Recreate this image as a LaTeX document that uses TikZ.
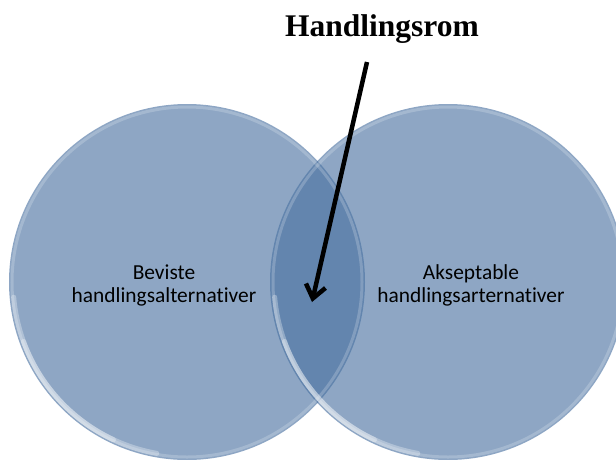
\documentclass[tikz,border=0pt]{standalone}
\usepackage{fontspec}
\setmainfont{Liberation Serif}
\newfontfamily\calibri[Ligatures=NoCommon]{Carlito}
\usetikzlibrary{arrows.meta}
\definecolor{setblue}{RGB}{72,112,160}

\begin{document}
\begin{tikzpicture}[x=1pt,y=-1pt]
\tikzset{setdisk/.style = {shape=circle,fill=setblue,fill opacity=0.62,minimum size=356pt,inner sep=0pt}}
\tikzset{rim/.style = {draw=white,draw opacity=0.2,line width=3pt}}
\tikzset{gloss/.style = {draw=white,draw opacity=0.3,line width=5pt,line cap=round}}
\tikzset{setname/.style = {align=center,font=\calibri\fontsize{21.4}{23}\selectfont}}
\tikzset{pointer/.style = {-{Straight Barb[length=13pt,width=20pt]},line width=4.5pt}}
\useasboundingbox (0,0) rectangle (616,459);
\node[setdisk](bevist) at (187, 282) {};
\node[setdisk](akseptabel) at (448, 282) {};
\draw[rim] (bevist.center) circle (175);
\draw[rim] (akseptabel.center) circle (175);
% highlight nede til venstre
\draw[gloss] ([shift={(100:174)}]bevist.center) arc (100:175:174);
\draw[gloss] ([shift={(100:174)}]akseptabel.center) arc (100:175:174);
\draw[gloss] ([shift={(115:174)}]bevist.center) arc (115:160:174);
\draw[gloss] ([shift={(115:174)}]akseptabel.center) arc (115:160:174);
\node[setname](bl) at (164, 285) {Beviste\\handlingsalternativer};
\node[setname](al) at (471, 285) {Akseptable\\handlingsarternativer};
\node[font=\bfseries\fontsize{31.5}{36}\selectfont,anchor=base](rom) at (382, 36) {Handlingsrom};
\coordinate (start) at (367, 62);
\coordinate (snitt) at (312, 302);
\draw[pointer] (start) -- (snitt);
\end{tikzpicture}
\end{document}
